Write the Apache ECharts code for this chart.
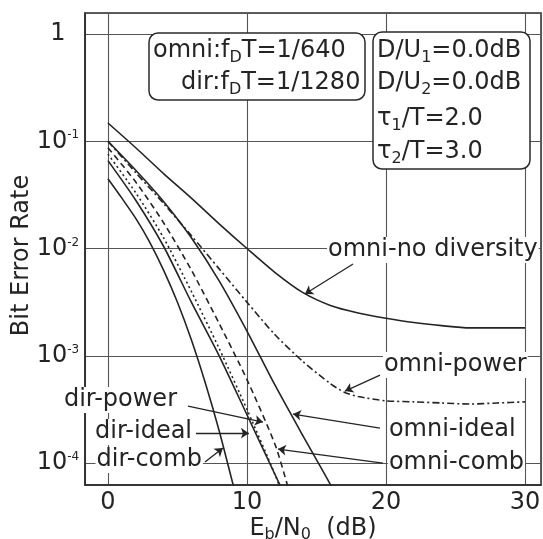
<!DOCTYPE html>
<html><head><meta charset="utf-8">
<script src="https://cdn.jsdelivr.net/npm/echarts@6/dist/echarts.min.js"></script>
<style>html,body{margin:0;padding:0;background:#fff}#c{width:543px;height:539px}</style>
</head><body><div id="c"></div>
<script>
const FONT = '"DejaVu Sans"';
const INK = '#242424';

// ---- tick labels ----
const xTickValues = [0, 10, 20, 30];
const yTickExponents = [0, -1, -2, -3, -4];

// ---- series values (Eb/N0 in dB, bit error rate) ----
const omniNoDivX = [0, 2, 4, 6, 8, 10, 12, 14, 16, 18, 20, 22, 24, 26, 28, 30];
const omniNoDivY = [0.148, 0.087, 0.050, 0.0295, 0.017, 0.010, 0.0060, 0.0039, 0.00295, 0.00251, 0.00224, 0.00204, 0.00191, 0.00182, 0.00182, 0.00182];

const omniPowerX = [0, 2, 4, 6, 8, 10, 12, 14, 16, 17, 18, 20, 22, 24, 26, 28, 30];
const omniPowerY = [0.1, 0.051, 0.0263, 0.0132, 0.00646, 0.00316, 0.00158, 8.9e-4, 5.5e-4, 4.57e-4, 4.17e-4, 3.8e-4, 3.72e-4, 3.63e-4, 3.55e-4, 3.63e-4, 3.72e-4];

const omniIdealX = [0, 2, 4, 6, 8, 10, 12, 14, 16, 17];
const omniIdealY = [0.1, 0.0537, 0.0275, 0.0126, 0.0050, 0.0017, 5.37e-4, 1.82e-4, 6.3e-5, 3.5e-5];

const omniCombX = [0, 2, 4, 6, 8, 10, 12, 12.9, 13.3];
const omniCombY = [0.087, 0.0417, 0.0174, 0.0063, 0.0020, 6.0e-4, 1.51e-4, 6.3e-5, 4.0e-5];

const dirPowerX = [0, 2, 4, 6, 8, 10, 12, 12.8];
const dirPowerY = [0.0759, 0.0331, 0.0126, 0.00398, 0.00117, 3.16e-4, 7.9e-5, 4.2e-5];

const dirIdealX = [0, 2, 4, 6, 8, 10, 12, 13];
const dirIdealY = [0.066, 0.0282, 0.0105, 0.00316, 0.0010, 2.82e-4, 7.9e-5, 4.2e-5];

const dirCombX = [0, 1, 2, 3, 4, 5, 6, 7, 8, 9, 9.3];
const dirCombY = [0.0447, 0.0295, 0.0191, 0.0115, 0.0063, 0.00316, 0.00141, 5.6e-4, 2.0e-4, 6.3e-5, 4.5e-5];

// ---- annotation text anchors and pointer arrows (data coordinates) ----
const labelTexts  = ['omni-no diversity', 'omni-power', 'omni-ideal', 'omni-comb', 'dir-power', 'dir-ideal', 'dir-comb'];
const labelX      = [15.76, 19.78, 20.14, 20.14, 5.04, 6.12, 6.83];
const labelY      = [9.7e-3, 8.2e-4, 2.03e-4, 1.0e-4, 3.87e-4, 1.95e-4, 1.07e-4];
const labelAlign  = ['left', 'left', 'left', 'left', 'right', 'right', 'right'];
const arrowFromX  = [17.63, 19.57, 19.57, 19.78, 5.76, 6.33, 6.98];
const arrowFromY  = [7.17e-3, 6.6e-4, 2.12e-4, 1.0e-4, 3.40e-4, 1.9e-4, 1.02e-4];
const arrowToX    = [14.17, 17.05, 13.31, 12.23, 11.15, 10.14, 8.27];
const arrowToY    = [3.77e-3, 4.69e-4, 2.86e-4, 1.35e-4, 2.41e-4, 1.9e-4, 1.38e-4];

const curves = [
  { name: 'omni-no diversity', x: omniNoDivX, y: omniNoDivY, dash: 'solid' },
  { name: 'omni-power', x: omniPowerX, y: omniPowerY, dash: [7, 3, 2, 3] },
  { name: 'omni-ideal', x: omniIdealX, y: omniIdealY, dash: 'solid' },
  { name: 'omni-comb', x: omniCombX, y: omniCombY, dash: [6, 4] },
  { name: 'dir-power', x: dirPowerX, y: dirPowerY, dash: [2, 3] },
  { name: 'dir-ideal', x: dirIdealX, y: dirIdealY, dash: 'solid' },
  { name: 'dir-comb', x: dirCombX, y: dirCombY, dash: 'solid' }
];

const chart = echarts.init(document.getElementById('c'), null, { renderer: 'canvas' });

const series = curves.map(c => ({
  type: 'line',
  name: c.name,
  data: c.x.map((v, i) => [v, c.y[i]]),
  showSymbol: false,
  symbol: 'none',
  smooth: 0.25,
  clip: true,
  z: 3,
  lineStyle: { color: INK, width: 1.6, type: c.dash },
  emphasis: { disabled: true },
  animation: false
}));

series.push({
  type: 'line',
  name: 'annotations',
  data: [],
  z: 6,
  animation: false,
  markLine: {
    silent: true,
    animation: false,
    symbol: ['none', 'arrow'],
    symbolSize: 8,
    lineStyle: { color: INK, width: 1.3, type: 'solid' },
    label: { show: false },
    emphasis: { disabled: true },
    data: arrowFromX.map((v, i) => [
      { coord: [v, arrowFromY[i]] },
      { coord: [arrowToX[i], arrowToY[i]] }
    ])
  },
  markPoint: {
    silent: true,
    animation: false,
    symbol: 'circle',
    symbolSize: 1,
    itemStyle: { color: 'rgba(0,0,0,0)' },
    data: labelTexts.map((t, i) => ({
      coord: [labelX[i], labelY[i]],
      label: {
        show: true,
        position: 'inside',
        align: labelAlign[i],
        verticalAlign: 'middle',
        formatter: t,
        color: INK,
        fontSize: 24,
        fontFamily: FONT,
        backgroundColor: '#fff',
        padding: [1, 1]
      }
    }))
  }
});

const subStyle = { fontSize: 16, fontFamily: FONT, lineHeight: 16, verticalAlign: 'bottom', fill: INK, color: INK };

function boxText(str, x, y) {
  return {
    type: 'text', z: 20, silent: true,
    style: {
      text: str, x: x, y: y + 3, fill: INK, fontSize: 24, fontFamily: FONT, lineHeight: 30,
      align: 'left', verticalAlign: 'middle',
      rich: { sub: subStyle }
    }
  };
}

const option = {
  animation: false,
  backgroundColor: '#fff',
  grid: { left: 85, right: 2, top: 13, bottom: 54, show: true, borderColor: '#2a2a2a', borderWidth: 1.5, backgroundColor: 'transparent', outerBoundsMode: 'none' },
  xAxis: {
    type: 'value',
    min: -1.65, max: 31.15,
    splitNumber: 3,
    axisLine: { show: true, onZero: false, lineStyle: { color: '#2a2a2a', width: 1.5 } },
    axisTick: { show: false },
    splitLine: { show: true, lineStyle: { color: '#555', width: 1.1 } },
    axisLabel: {
      margin: 6, color: INK, fontSize: 24, fontFamily: FONT,
      showMinLabel: true, showMaxLabel: true,
      formatter: v => xTickValues.some(t => Math.abs(t - v) < 1e-6) ? String(Math.round(v)) : ''
    },
    name: '{m|E}{s|b}{m|/N}{s|0}{m|  (dB)}',
    nameLocation: 'middle',
    nameMoveOverlap: false,
    nameGap: 30,
    nameTextStyle: {
      color: INK, fontSize: 24, fontFamily: FONT,
      rich: {
        m: { fontSize: 24, fontFamily: FONT, color: INK, lineHeight: 28 },
        s: { fontSize: 16, fontFamily: FONT, color: INK, lineHeight: 16, verticalAlign: 'bottom' }
      }
    }
  },
  yAxis: {
    type: 'log', logBase: 10,
    min: 6.24e-5, max: 1.57,
    axisLine: { show: true, onZero: false, lineStyle: { color: '#2a2a2a', width: 1.5 } },
    axisTick: { show: false },
    minorTick: { show: false },
    splitLine: { show: true, lineStyle: { color: '#555', width: 1.1 } },
    axisLabel: {
      margin: 27, align: 'center', color: INK, fontSize: 24, fontFamily: FONT,
      formatter: v => {
        const e = Math.log10(v);
        const r = Math.round(e);
        if (Math.abs(e - r) > 0.02 || yTickExponents.indexOf(r) < 0) return '';
        return r === 0 ? '{m|1}' : '{m|10}{s|' + r + '}';
      },
      rich: { m: { fontSize: 24, fontFamily: FONT, color: INK }, s: { fontSize: 12, fontFamily: FONT, color: INK, verticalAlign: 'top' } }
    },
    name: 'Bit Error Rate',
    nameLocation: 'middle',
    nameMoveOverlap: false,
    nameRotate: 90,
    nameGap: 51,
    nameTextStyle: { color: INK, fontSize: 24, fontFamily: FONT, padding: [0, 13, 0, 0] }
  },
  graphic: [
    { type: 'rect', z: 19, silent: true, shape: { x: 149, y: 33, width: 216, height: 67, r: 9 }, style: { fill: '#fff', stroke: '#2a2a2a', lineWidth: 1.5 } },
    { type: 'rect', z: 19, silent: true, shape: { x: 373, y: 32, width: 157, height: 137, r: 9 }, style: { fill: '#fff', stroke: '#2a2a2a', lineWidth: 1.5 } },
    boxText('omni:f{sub|D}T=1/640', 153, 48),
    boxText('dir:f{sub|D}T=1/1280', 181, 80),
    boxText('D/U{sub|1}=0.0dB', 377, 48),
    boxText('D/U{sub|2}=0.0dB', 377, 80),
    boxText('τ{sub|1}/T=2.0', 377, 116),
    boxText('τ{sub|2}/T=3.0', 377, 149)
  ],
  series: series
};

chart.setOption(option);
</script>
</body></html>
